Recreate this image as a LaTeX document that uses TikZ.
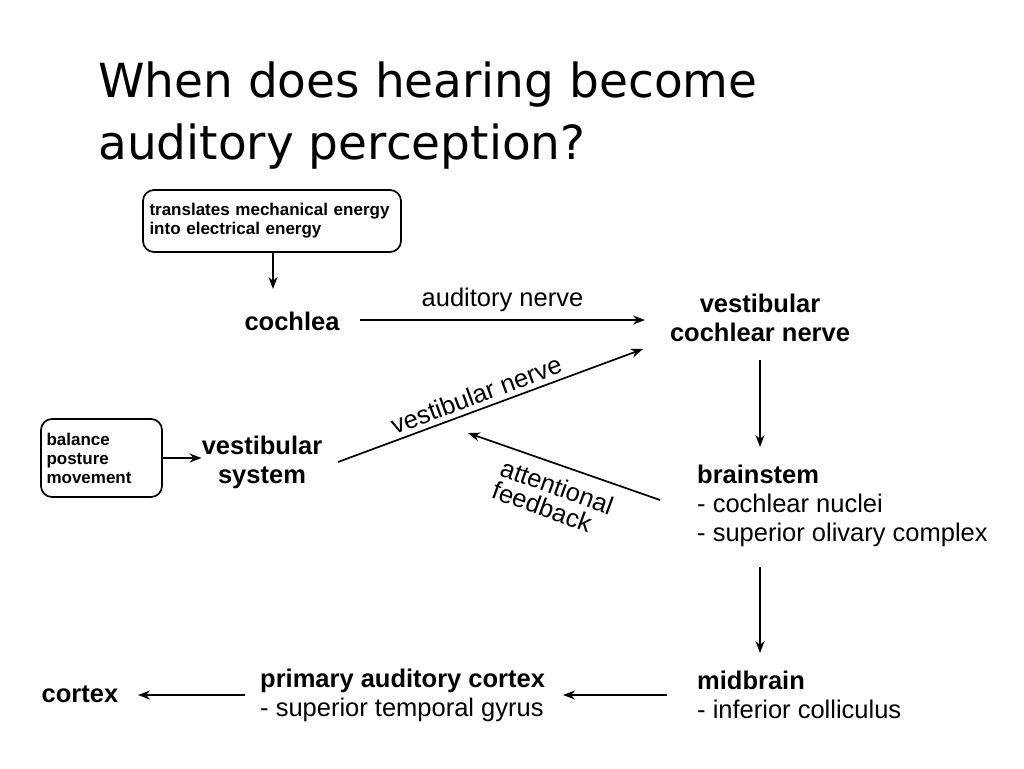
\documentclass[tikz,border=0pt]{standalone}
\usepackage{fontspec}
\setmainfont{Liberation Sans}
\newfontfamily\titlefont{DejaVu Sans}
\usetikzlibrary{positioning,arrows.meta}
\begin{document}
\begin{tikzpicture}[x=1pt,y=-1pt,
    conn/.style={-{Stealth[length=12pt,width=9pt]}, line width=1.7pt},
    lbl/.style={font=\fontsize{25.5}{29}\selectfont, inner sep=0pt},
    key/.style={font=\fontsize{25.5}{29}\selectfont\bfseries, inner sep=0pt},
    note/.style={draw, rounded corners=11pt, line width=1.7pt, font=\fontsize{17}{19}\selectfont\bfseries, align=left}]
        \useasboundingbox (0,0) rectangle (1024,768);
        % Title
        \node[anchor=north west, align=left, font=\titlefont\fontsize{47}{62}\selectfont, inner sep=0pt] (title) at (98,62) {When does hearing become\\auditory perception?};

        % Notes
        \node[note, minimum width=258pt, minimum height=62pt, text width=245pt] (energy) at (272,221) {translates mechanical energy\\into electrical energy};
        \node[note, minimum width=121pt, minimum height=78pt, text width=110pt] (balance) at (101.5,458) {balance\\posture\\movement};

        % Stations
        \node[key] (cochlea) at (292,321) {cochlea};
        \node[key, align=center] (vcn) at (760,318) {vestibular\\cochlear nerve};
        \node[key, align=center] (vsys) at (262,462) {vestibular\\system};
        \node[lbl, anchor=west, align=left] (brainstem) at (697,506) {\textbf{brainstem}\\- cochlear nuclei\\- superior olivary complex};
        \node[lbl, anchor=west, align=left] (midbrain) at (697,695) {\textbf{midbrain}\\- inferior colliculus};
        \node[lbl, anchor=west, align=left] (pac) at (260,695) {\textbf{primary auditory cortex}\\- superior temporal gyrus};
        \node[key] (cortex) at (80,694) {cortex};

        % Helper points
        \coordinate (fbstart) at (660,500);
        \coordinate (fbend) at (468,433);
        \coordinate (vnstart) at (338,462);
        \coordinate (vnend) at (643,349);

        % Connectors
        \draw[conn] (energy.south -| 273,0) -- (273,289);
        \draw[conn] (360,320) -- node[lbl, above=7pt] {auditory nerve} (645,320);
        \draw[conn] (760,360) -- (760,447);
        \draw[conn] (760,567) -- (760,653);
        \draw[conn] (667,695) -- (563,695);
        \draw[conn] (245,695) -- (138,695);
        \draw[conn] (balance.east) -- (balance.east -| vsys.west);
        \draw[conn] (vnstart) -- node[lbl, sloped, above=5pt, pos=0.47] {vestibular nerve} (vnend);
        \draw[conn] (fbstart) -- (fbend);
        \node[lbl, align=left, rotate=-20, font=\fontsize{25.5}{24}\selectfont] (fblabel) at (553,498) {attentional\\feedback};
\end{tikzpicture}
\end{document}
